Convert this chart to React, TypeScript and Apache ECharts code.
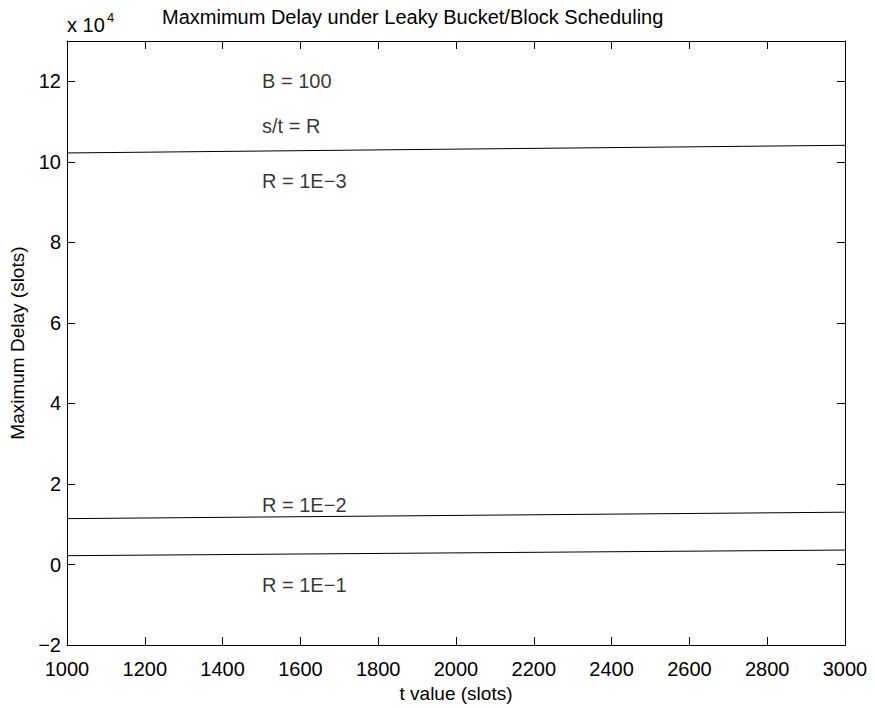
import React, { useEffect, useRef } from "react";
import * as echarts from "echarts";

const tValues = [1000, 3000];
const delayR1e3 = [102200, 104100];
const delayR1e2 = [11400, 13000];
const delayR1e1 = [2200, 3600];
const notes = [
  { t: 1500, d: 120000, text: "B = 100" },
  { t: 1500, d: 108900, text: "s/t = R" },
  { t: 1500, d: 95200, text: "R = 1E\u22123" },
  { t: 1500, d: 14900, text: "R = 1E\u22122" },
  { t: 1500, d: -5200, text: "R = 1E\u22121" },
];
const titleText = "Maxmimum Delay under Leaky Bucket/Block Scheduling";
const xLabel = "t value (slots)";
const yLabel = "Maximum Delay (slots)";

const FONT = "'Liberation Sans', Arial, Helvetica, sans-serif";

export default function App() {
  const ref = useRef<HTMLDivElement>(null);
  useEffect(() => {
    const chart = echarts.init(ref.current!, null, { renderer: "svg" });
    const lineSeries = (name: string, vals: number[]) => ({
      name,
      type: "line",
      data: tValues.map((t, i) => [t, vals[i]]),
      showSymbol: false,
      symbol: "none",
      lineStyle: { color: "#000", width: 1 },
      xAxisIndex: 0,
      yAxisIndex: 0,
    });
    const axisCommon = {
      axisLine: { show: true, onZero: false, lineStyle: { color: "#000", width: 1 } },
      axisTick: { show: true, inside: true, length: 8, lineStyle: { color: "#000", width: 1 } },
      splitLine: { show: false },
    };
    chart.setOption({
      animation: false,
      backgroundColor: "#fff",
      title: {
        text: titleText,
        left: 157,
        top: 2,
        textStyle: { fontFamily: FONT, fontSize: 20, fontWeight: "normal", color: "#000" },
      },
      grid: { left: 67, right: 30, top: 41, bottom: 55, containLabel: false },
      xAxis: [
        {
          type: "value",
          min: 1000,
          max: 3000,
          interval: 200,
          position: "bottom",
          name: xLabel,
          nameLocation: "middle",
          nameGap: 37,
          nameTextStyle: { fontFamily: FONT, fontSize: 19, color: "#000" },
          ...axisCommon,
          axisLabel: {
            fontFamily: FONT,
            fontSize: 20,
            color: "#000",
            margin: 14,
            formatter: (v: number) => String(v),
          },
        },
        {
          type: "value",
          min: 1000,
          max: 3000,
          interval: 200,
          position: "top",
          ...axisCommon,
          axisLabel: { show: false },
        },
      ],
      yAxis: [
        {
          type: "value",
          min: -20000,
          max: 130000,
          interval: 20000,
          position: "left",
          name: yLabel,
          nameLocation: "middle",
          nameGap: 29,
          nameTextStyle: { fontFamily: FONT, fontSize: 19, color: "#000" },
          ...axisCommon,
          axisLabel: {
            fontFamily: FONT,
            fontSize: 20,
            color: "#000",
            margin: 6,
            formatter: (v: number) => {
              if (v > 120000) return "";
              const n = v / 10000;
              return (n < 0 ? "\u2212" : "") + Math.abs(n);
            },
          },
        },
        {
          type: "value",
          min: -20000,
          max: 130000,
          interval: 20000,
          position: "right",
          ...axisCommon,
          axisLabel: { show: false },
        },
      ],
      graphic: [
        {
          type: "text",
          left: 67,
          top: 15,
          style: { text: "x 10", font: `20px ${FONT}`, fill: "#000" },
        },
        {
          type: "text",
          left: 107,
          top: 11,
          style: { text: "4", font: `13px ${FONT}`, fill: "#000" },
        },
      ],
      series: [
        lineSeries("R = 1E-3", delayR1e3),
        lineSeries("R = 1E-2", delayR1e2),
        lineSeries("R = 1E-1", delayR1e1),
        {
          name: "notes",
          type: "scatter",
          symbolSize: 1,
          itemStyle: { color: "rgba(0,0,0,0)" },
          data: notes.map((n) => ({ value: [n.t, n.d], name: n.text })),
          label: {
            show: true,
            position: "right",
            distance: 0,
            formatter: (p: any) => p.name,
            fontFamily: FONT,
            fontSize: 20,
            color: "#000",
          },
          xAxisIndex: 0,
          yAxisIndex: 0,
        },
      ],
    });
    return () => chart.dispose();
  }, []);
  return (
    <div
      ref={ref}
      style={{ position: "fixed", left: 0, top: 0, width: 875, height: 708, background: "#fff" }}
    />
  );
}
